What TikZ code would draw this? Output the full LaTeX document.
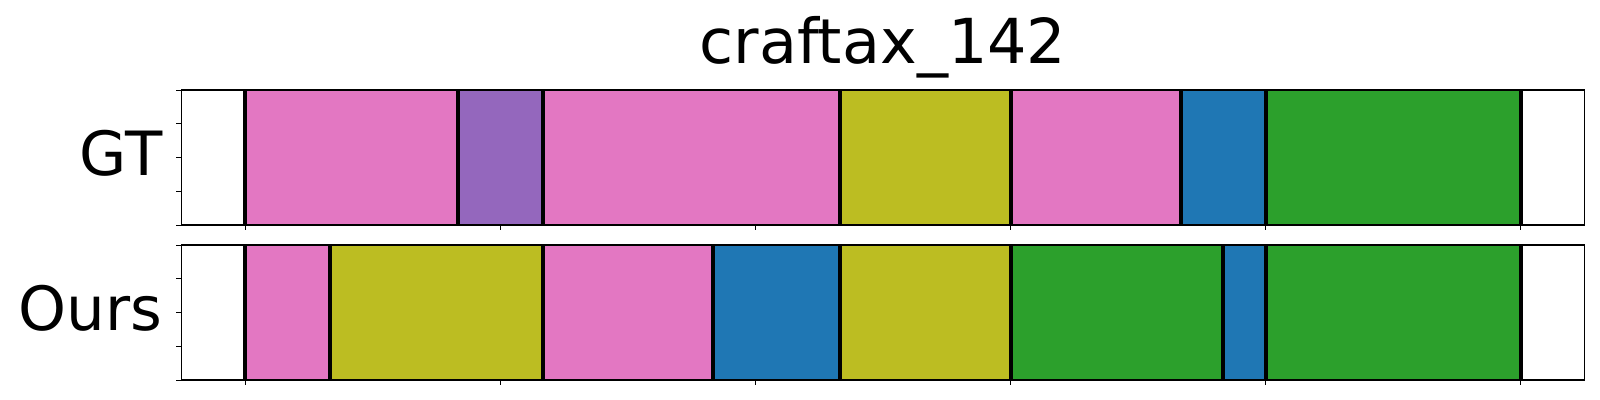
\documentclass[tikz,border=0pt]{standalone}
\usepackage{fontspec}
\setmainfont{DejaVu Sans}
\usepackage{tikz}
\usetikzlibrary{calc}
\definecolor{tabpink}{HTML}{E377C2}
\definecolor{tabpurple}{HTML}{9467BD}
\definecolor{tabolive}{HTML}{BCBD22}
\definecolor{tabblue}{HTML}{1F77B4}
\definecolor{tabgreen}{HTML}{2CA02C}
\tikzset{
  sepline/.style={line width=4pt, black},
  frameline/.style={line width=1.1pt, black},
  tickline/.style={line width=1pt, black},
  bigtext/.style={font=\fontsize{62}{70}\selectfont, inner sep=0pt},
  rowtext/.style={font=\fontsize{61}{70}\selectfont, inner sep=0pt, anchor=base east},
}
\newcommand{\segbar}[4]{\filldraw[fill=#4, draw=#4!85!black, line width=0.8pt] (#1,#3) rectangle (#2,#3+135);}

\begin{document}
\begin{tikzpicture}[x=42.53pt, y=-1pt]
\useasboundingbox (-5.761,0) rectangle (31.86,400);
%タイトル%
\node[bigtext, anchor=base] (title) at (15,63) {craftax\_142};
\node[rowtext] (gt) at (-1.94,175) {GT};
\node[rowtext] (ours) at (-1.94,330) {Ours};
%GT%
\segbar{0}{5}{90}{tabpink}
\segbar{5}{7}{90}{tabpurple}
\segbar{7}{14}{90}{tabpink}
\segbar{14}{18}{90}{tabolive}
\segbar{18}{22}{90}{tabpink}
\segbar{22}{24}{90}{tabblue}
\segbar{24}{30}{90}{tabgreen}
%Ours%
\segbar{0}{2}{245}{tabpink}
\segbar{2}{7}{245}{tabolive}
\segbar{7}{11}{245}{tabpink}
\segbar{11}{14}{245}{tabblue}
\segbar{14}{18}{245}{tabolive}
\segbar{18}{23}{245}{tabgreen}
\segbar{23}{24}{245}{tabblue}
\segbar{24}{30}{245}{tabgreen}
%区切り線%
\foreach \k in {0,5,7,14,18,22,24,30} \draw[sepline] (\k,90) -- (\k,225);
\foreach \k in {0,2,7,11,14,18,23,24,30} \draw[sepline] (\k,245) -- (\k,380);
%枠と目盛り%
\foreach \top in {90,245} {
  \draw[frameline] (-1.5,\top) rectangle (31.5,\top+135);
  \foreach \i in {0,...,4} \draw[tickline] (-1.5,\top+33.75*\i) -- ++(-5pt,0);
  \foreach \k in {0,6,...,30} \draw[tickline] (\k,\top+135) -- ++(0,-5pt);
}
\end{tikzpicture}
\end{document}
